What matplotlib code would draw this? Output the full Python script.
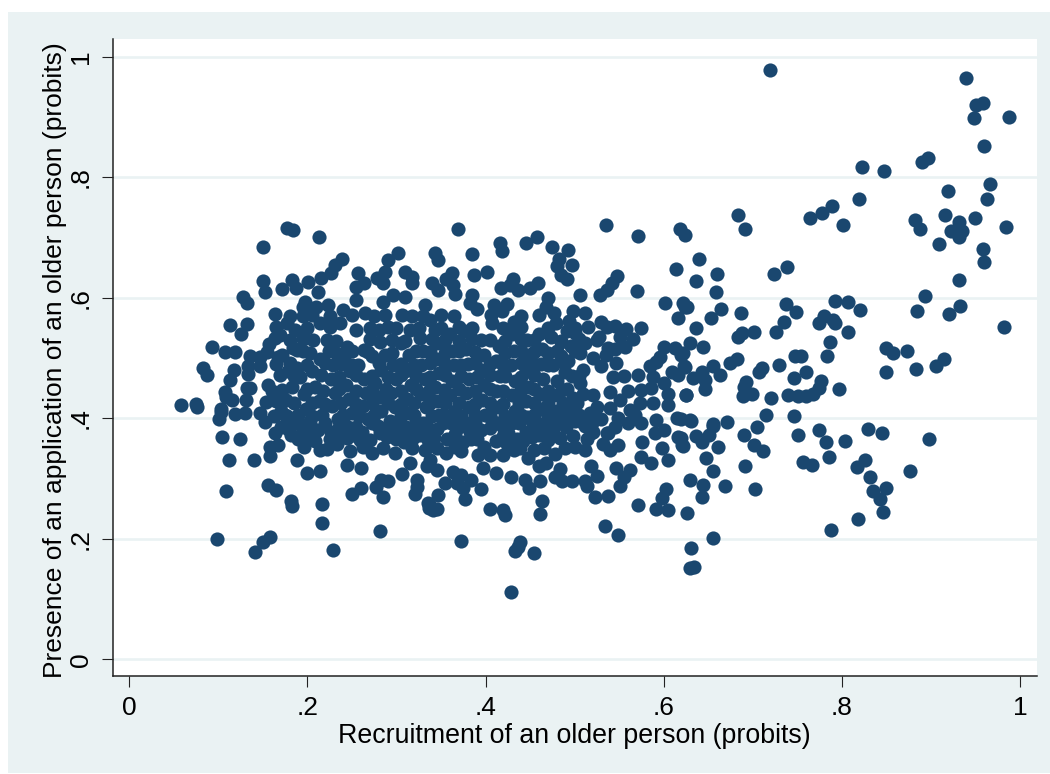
import numpy as np
import matplotlib
matplotlib.use('Agg')
import matplotlib.pyplot as plt
from matplotlib.patches import Rectangle

# points, by region (recruitment, application)
top_right = [(.719,.978),(.940,.965),(.951,.920),(.959,.923),(.948,.899),(.988,.900),(.960,.852),(.823,.817),
    (.847,.810),(.890,.826),(.897,.832),(.967,.788),(.919,.777),(.963,.764),(.819,.764),(.789,.753),(.778,.740),
    (.764,.732),(.802,.720),(.684,.737),(.691,.714),(.882,.729),(.888,.714),(.916,.737),(.932,.726),(.950,.732),
    (.984,.718),(.923,.710),(.935,.710),(.929,.710),(.932,.701),(.909,.689),(.959,.681),(.960,.660),(.932,.629),
    (.894,.603),(.933,.587),(.885,.578),(.921,.573),(.821,.580),(.807,.593),(.793,.595),(.749,.577),(.737,.589),
    (.739,.651),(.724,.639),(.640,.664),(.660,.639),(.636,.628),(.659,.610),(.665,.582),(.687,.574),(.653,.566),
    (.624,.704),(.618,.714),(.624,.585)]

lower_right = [(.735,.559),(.726,.543),(.701,.543),(.688,.541),(.684,.535),(.636,.549),(.630,.525),(.644,.518),
    (.620,.505),(.624,.485),(.682,.499),(.674,.491),(.656,.487),(.643,.477),(.633,.466),(.663,.472),(.646,.463),
    (.646,.448),(.625,.438),(.710,.483),(.707,.477),(.730,.489),(.747,.503),(.754,.503),(.760,.477),(.746,.466),
    (.693,.461),(.690,.452),(.689,.437),(.699,.440),(.721,.434),(.740,.439),(.751,.437),(.760,.437),(.768,.441),
    (.777,.462),(.775,.450),(.797,.449),(.783,.504),(.787,.526),(.807,.543),(.774,.558),(.780,.570),(.790,.563),
    (.793,.558),(.850,.516),(.858,.509),(.873,.512),(.850,.476),(.883,.482),(.906,.486),(.915,.499),(.982,.552),
    (.715,.405),(.746,.404),(.705,.385),(.690,.373),(.701,.355),(.712,.345),(.751,.373),(.775,.381),(.782,.361),
    (.804,.362),(.830,.382),(.845,.375),(.898,.366),(.786,.336),(.757,.328),(.767,.322),(.826,.331),(.817,.319),
    (.832,.302),(.850,.285),(.835,.280),(.843,.266),(.846,.245),(.877,.313),(.818,.233),(.788,.215),(.691,.320),
    (.703,.283),(.669,.288),(.656,.313),(.648,.334),(.661,.352),(.671,.394),(.656,.388),(.651,.372),(.643,.361),
    (.636,.371),(.631,.396),(.620,.398),(.620,.367),(.622,.354),(.630,.297),(.644,.289),(.643,.269),(.626,.243),
    (.656,.202),(.631,.184),(.630,.152),(.634,.153)]

bottom_centre = [(.429,.112),(.455,.177),(.433,.179),(.436,.187),(.439,.195),(.373,.197),(.549,.207),(.534,.222),
    (.461,.241),(.464,.262),(.422,.239),(.420,.247),(.405,.249),(.377,.266),(.395,.282),(.345,.249),(.337,.251),
    (.335,.259),(.347,.273),(.354,.292),(.368,.292),(.375,.284),(.384,.298),(.373,.306),(.364,.311),(.356,.342),
    (.397,.318),(.412,.310),(.429,.303),(.444,.298),(.449,.285),(.461,.296),(.460,.320),(.468,.325),(.478,.340),
    (.489,.350),(.484,.367),(.472,.372),(.448,.334),(.454,.347),(.452,.369),(.439,.350),(.420,.339),(.405,.339),
    (.392,.339),(.373,.345),(.375,.361),(.383,.378),(.425,.375),(.424,.358),(.484,.316),(.478,.302),(.486,.296),
    (.497,.296),(.512,.296),(.514,.288),(.525,.304),(.519,.320),(.523,.270),(.537,.271),(.551,.288),(.547,.318),
    (.562,.314),(.555,.302),(.571,.256),(.592,.250),(.605,.248),(.598,.267),(.603,.283),(.605,.331),(.586,.325),
    (.575,.336),(.576,.361),(.598,.351),(.512,.348),(.519,.375),(.514,.365),(.532,.358),(.540,.347),(.549,.355),
    (.538,.375),(.621,.356),(.616,.369),(.656,.390)]

bottom_left = [(.099,.200),(.141,.178),(.150,.194),(.158,.203),(.229,.182),(.281,.213),(.216,.227),(.216,.258),
    (.183,.254),(.182,.263),(.109,.280),(.156,.290),(.165,.281),(.199,.309),(.214,.313),(.188,.330),(.112,.330),
    (.140,.330),(.158,.337),(.104,.369),(.124,.366),(.101,.399),(.103,.411),(.119,.407),(.130,.408),(.058,.422),
    (.076,.419),(.075,.423),(.244,.322),(.260,.317),(.250,.275),(.260,.285),(.285,.269),(.277,.286),(.283,.297),
    (.290,.296),(.321,.275),(.323,.286),(.336,.258),(.341,.248),(.306,.307),(.323,.297),(.315,.325),(.334,.320),
    (.338,.331),(.345,.314),(.332,.347),(.298,.342),(.272,.342),(.248,.345),(.259,.364),(.214,.347),(.203,.369),
    (.233,.358),(.244,.367),(.289,.369),(.308,.361),(.319,.367),(.167,.356),(.158,.353),(.164,.375),(.152,.394),
    (.162,.403),(.177,.403),(.147,.408)]

top_left = [(.177,.715),(.184,.712),(.213,.701),(.150,.684),(.239,.664),(.231,.654),(.227,.641),(.215,.633),
    (.201,.626),(.183,.629),(.187,.616),(.172,.614),(.150,.628),(.152,.610),(.128,.602),(.132,.592),(.212,.609),
    (.164,.573),(.113,.555),(.132,.557),(.125,.540),(.093,.518),(.107,.510),(.119,.510),(.136,.503),(.147,.502),
    (.147,.486),(.083,.483),(.087,.472),(.118,.480),(.113,.464),(.133,.486),(.133,.473),(.132,.450),(.136,.450),
    (.131,.430),(.107,.444),(.109,.436),(.115,.430),(.103,.415),(.157,.523),(.165,.552),(.177,.558),(.169,.538),
    (.164,.533),(.167,.502),(.156,.455),(.169,.472),(.188,.483),(.184,.516),(.195,.585),(.197,.593),(.195,.569),
    (.210,.584),(.223,.588),(.240,.580),(.255,.596),(.265,.574),(.285,.593),(.287,.571),(.296,.604),(.310,.601),
    (.257,.641),(.255,.618),(.264,.624),(.290,.663),(.302,.675),(.287,.643),(.278,.632),(.285,.624),(.310,.643),
    (.317,.635),(.317,.624),(.306,.571),(.317,.569),(.340,.624),(.343,.674),(.347,.663),(.332,.588),(.338,.563),
    (.343,.546),(.300,.549),(.280,.546),(.281,.527),(.315,.546),(.326,.533),(.287,.505),(.244,.519),(.263,.513),
    (.255,.546),(.237,.558),(.222,.530),(.214,.558),(.203,.508),(.188,.513),(.186,.546)]

top_centre = [(.369,.714),(.535,.720),(.571,.702),(.458,.701),(.445,.691),(.416,.691),(.418,.678),(.385,.673),
    (.475,.685),(.493,.679),(.482,.665),(.480,.652),(.497,.655),(.485,.638),(.491,.631),(.614,.647),(.548,.636),
    (.542,.625),(.536,.613),(.529,.604),(.570,.612),(.506,.605),(.402,.642),(.387,.637),(.362,.641),(.356,.631),
    (.347,.613),(.364,.621),(.366,.606),(.431,.631),(.417,.617),(.427,.621),(.437,.613),(.450,.616),(.459,.624),
    (.385,.605),(.383,.592),(.390,.582),(.409,.588),(.424,.590),(.418,.578),(.406,.571),(.432,.560),(.407,.558),
    (.470,.599),(.468,.585),(.477,.575),(.479,.558),(.498,.578),(.512,.574),(.494,.561),(.515,.551),(.500,.541),
    (.575,.549),(.530,.560),(.545,.553),(.558,.548),(.536,.552),(.528,.535),(.551,.535),(.566,.531),(.557,.519),
    (.538,.516),(.602,.592),(.622,.592),(.626,.585),(.616,.567)]

centre_right = [(.600,.519),(.613,.516),(.622,.508),(.596,.502),(.592,.494),(.623,.487),(.585,.486),(.571,.472),
    (.588,.469),(.609,.477),(.616,.472),(.601,.458),(.575,.447),(.586,.450),(.605,.441),(.625,.439),(.605,.422),
    (.588,.425),(.573,.425),(.562,.414),(.551,.430),(.540,.417),(.575,.392),(.592,.397),(.615,.400),(.630,.397),
    (.549,.400),(.600,.381),(.590,.375),(.517,.408),(.508,.394),(.525,.419),(.521,.439),(.540,.444),(.521,.378),
    (.536,.375),(.498,.433),(.487,.394),(.547,.491),(.543,.469),(.521,.500),(.530,.486),(.506,.458),(.489,.477),
    (.506,.508),(.485,.503),(.485,.527)]

# dense middle of the cloud
core = [(.172,.505),(.178,.478),(.183,.452),(.176,.430),(.170,.412),(.186,.392),(.178,.383),(.165,.428),(.160,.445),
    (.153,.427),(.192,.468),(.196,.440),(.198,.415),(.203,.395),(.194,.375),(.212,.380),(.216,.405),(.213,.428),
    (.208,.452),(.205,.478),(.214,.498),(.206,.530),(.224,.512),(.229,.488),(.226,.465),(.231,.442),(.228,.420),
    (.234,.398),(.227,.377),(.246,.385),(.250,.408),(.247,.432),(.243,.455),(.248,.478),(.241,.498),(.257,.488),
    (.263,.465),(.266,.442),(.262,.420),(.268,.398),(.261,.378),(.279,.388),(.283,.412),(.280,.435),(.276,.458),
    (.283,.480),(.272,.503),(.296,.488),(.299,.465),(.294,.442),(.298,.418),(.293,.395),(.311,.385),(.314,.408),
    (.312,.432),(.316,.455),(.310,.478),(.314,.505),(.305,.525),(.330,.512),(.328,.488),(.332,.465),(.328,.440),
    (.333,.418),(.330,.392),(.326,.372),(.345,.382),(.348,.405),(.346,.428),(.343,.452),(.348,.475),(.344,.498),
    (.346,.525),(.360,.540),(.362,.512),(.365,.488),(.362,.462),(.360,.438),(.366,.412),(.361,.392),(.357,.365),
    (.378,.392),(.381,.418),(.378,.442),(.382,.465),(.380,.490),(.378,.515),(.376,.545),(.395,.530),(.398,.505),
    (.395,.480),(.398,.455),(.396,.430),(.399,.405),(.395,.380),(.412,.362),(.413,.392),(.415,.418),(.412,.445),
    (.416,.470),(.412,.495),(.415,.520),(.430,.540),(.432,.512),(.429,.488),(.433,.462),(.430,.438),(.433,.412),
    (.430,.392),(.445,.378),(.447,.402),(.445,.428),(.449,.452),(.446,.478),(.449,.505),(.447,.530),(.460,.540),
    (.463,.515),(.462,.490),(.465,.465),(.461,.440),(.464,.415),(.461,.390),(.477,.385),(.480,.412),(.477,.438),
    (.480,.462),(.476,.488),(.480,.512),(.474,.535),(.492,.545),(.496,.520),(.493,.495),(.497,.470),(.492,.448),
    (.495,.415),(.510,.480),(.512,.525),(.525,.530),(.545,.515),(.510,.440),(.555,.470),(.535,.505),(.560,.445)]

core_fill = [(.190,.365),(.225,.366),(.270,.364),(.300,.366),(.335,.364),(.390,.366),(.435,.365),(.470,.364),
    (.170,.386),(.205,.384),(.235,.386),(.255,.385),(.290,.384),(.320,.386),(.335,.384),(.370,.386),(.405,.384),
    (.420,.386),(.455,.384),(.470,.386),(.490,.385),
    (.175,.405),(.190,.406),(.205,.404),(.240,.406),(.258,.404),(.275,.405),(.305,.404),(.320,.406),(.340,.404),
    (.355,.406),(.372,.404),(.388,.405),(.405,.406),(.422,.404),(.440,.405),(.455,.406),(.470,.404),(.488,.405),(.505,.406),
    (.185,.425),(.205,.426),(.220,.424),(.238,.426),(.255,.424),(.272,.425),(.290,.426),(.305,.424),(.320,.426),
    (.337,.424),(.355,.425),(.370,.426),(.388,.424),(.405,.426),(.420,.424),(.438,.425),(.455,.426),(.470,.424),
    (.487,.425),(.503,.426),
    (.172,.447),(.200,.448),(.218,.446),(.236,.448),(.255,.446),(.272,.447),(.288,.448),(.305,.446),(.322,.448),
    (.337,.446),(.353,.447),(.370,.448),(.388,.446),(.405,.448),(.420,.446),(.440,.447),(.455,.448),(.470,.446),(.486,.447),
    (.185,.470),(.215,.471),(.235,.469),(.255,.471),(.272,.470),(.290,.469),(.305,.471),(.322,.470),(.338,.469),
    (.355,.471),(.372,.470),(.390,.469),(.405,.471),(.422,.470),(.440,.469),(.455,.471),(.505,.470),
    (.165,.490),(.180,.491),(.200,.489),(.220,.491),(.238,.490),(.250,.489),(.280,.491),(.305,.490),(.320,.489),
    (.338,.491),(.355,.490),(.372,.489),(.388,.491),(.405,.490),(.420,.489),(.440,.491),(.455,.490),(.470,.489),(.488,.491),
    (.155,.510),(.195,.511),(.232,.509),(.250,.511),(.268,.510),(.295,.509),(.322,.511),(.338,.510),(.355,.509),
    (.370,.511),(.388,.510),(.422,.509),(.440,.511),(.455,.510),(.470,.509),(.500,.511),
    (.180,.530),(.195,.531),(.232,.529),(.270,.531),(.295,.530),(.310,.529),(.340,.531),(.355,.530),(.370,.529),
    (.385,.531),(.405,.530),(.422,.529),(.440,.531),(.455,.530),(.485,.529),(.505,.531),
    (.200,.550),(.225,.551),(.270,.549),(.290,.551),(.325,.550),(.350,.549),(.370,.551),(.385,.550),(.420,.549),
    (.440,.551),(.470,.550),(.500,.549),
    (.180,.570),(.205,.571),(.225,.569),(.250,.571),(.275,.570),(.330,.569),(.350,.571),(.365,.570),(.440,.569),(.460,.571)]

# lower edge of the dense part, y about .34 to .40
lower_fill = [(.196,.352),(.222,.349),(.262,.352),(.285,.351),(.318,.350),(.346,.350),(.366,.352),(.398,.352),
    (.432,.347),(.466,.350),(.500,.352),(.182,.372),(.208,.362),(.238,.374),(.252,.372),(.282,.375),(.298,.378),
    (.313,.372),(.342,.368),(.366,.374),(.384,.365),(.420,.370),(.442,.362),(.460,.372),(.498,.370),(.512,.388),
    (.192,.390),(.220,.392),(.240,.395),(.272,.392),(.303,.393),(.322,.394),(.352,.392),(.388,.393),(.407,.396),
    (.438,.392),(.452,.395),(.484,.397),(.500,.396),(.530,.398),(.545,.385),(.560,.392),(.520,.392),(.568,.405)]

x_ticks = [0, .2, .4, .6, .8, 1]
y_ticks = [0, .2, .4, .6, .8, 1]
x_tick_labels = ['0', '.2', '.4', '.6', '.8', '1']
y_tick_labels = ['0', '.2', '.4', '.6', '.8', '1']

pts = np.array(top_right + lower_right + bottom_centre + bottom_left + top_left + top_centre + centre_right
               + core + core_fill + lower_fill)

plt.rcParams['font.family'] = ['Liberation Sans', 'DejaVu Sans']

W, H = 1050, 774
fig = plt.figure(figsize=(W / 100, H / 100), dpi=100, facecolor='white')
# Stata s2color background, leaves a white strip at top and left
fig.patches.append(Rectangle((8 / W, 1 / H), (W - 8) / W, (773 - 12) / H, transform=fig.transFigure,
                             facecolor='#EAF2F3', edgecolor='none', zorder=-5))
ax = fig.add_axes([113 / W, (H - 676) / H, (1037 - 113) / W, (676 - 39.3) / H])
ax.scatter(pts[:, 0], pts[:, 1], s=104, color='#1A476F', linewidths=0, zorder=3)
ax.set_xlim(-.0183, 1.0193)
ax.set_ylim(-.0277, 1.0289)

ax.grid(True, axis='y', color='#EAF2F3', lw=1.9, zorder=0)
ax.set_axisbelow(True)
ax.spines['top'].set_visible(False)
ax.spines['right'].set_visible(False)
ax.spines['left'].set_color('#222222')
ax.spines['bottom'].set_color('#222222')
ax.spines['left'].set_linewidth(1.1)
ax.spines['bottom'].set_linewidth(1.1)

ax.set_xticks(x_ticks, x_tick_labels, fontsize=19)
ax.set_yticks(y_ticks, y_tick_labels, fontsize=19, rotation=90, va='center')
ax.tick_params(length=8, width=.8, color='#222222')
ax.tick_params(axis='x', pad=6.5)
ax.tick_params(axis='y', pad=6.5)

ax.set_xlabel('Recruitment of an older person (probits)', fontsize=19.3, va='center')
ax.set_ylabel('Presence of an application of an older person (probits)', fontsize=19, va='center')
ax.xaxis.set_label_coords(.4995, -.094)
ax.yaxis.set_label_coords(-.0625, .496)

fig.savefig('out.png', dpi=100, facecolor=fig.get_facecolor())
